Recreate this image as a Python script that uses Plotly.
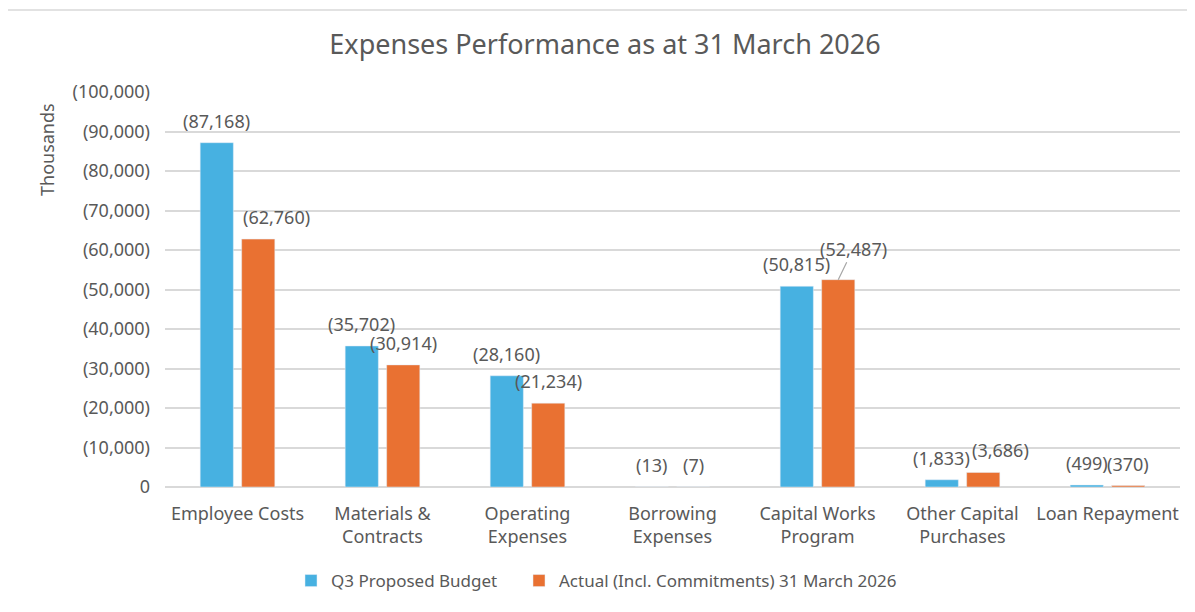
import plotly.graph_objects as go

categories = ["Employee Costs", "Materials &<br>Contracts", "Operating<br>Expenses",
              "Borrowing<br>Expenses", "Capital Works<br>Program", "Other Capital<br>Purchases",
              "Loan Repayment"]
budget = [-87168, -35702, -28160, -13, -50815, -1833, -499]
actual = [-62760, -30914, -21234, -7, -52487, -3686, -370]
tick_values = [0, -10000, -20000, -30000, -40000, -50000, -60000, -70000, -80000, -90000, -100000]

# label placement tweaks (style only): horizontal pixel nudges for some actual labels,
# and the label that is pulled out with a leader line
ACTUAL_LABEL_NUDGE = {0: 18, 5: 17}
LEADER_IDX = 4


def acct(v):
    if v < 0:
        return "({:,.0f})".format(-v)
    return "{:,.0f}".format(v)


FONT = "Noto Sans"
GREY = "#595959"
BLUE = "#47B1E1"
ORANGE = "#E97132"
LABEL_SIZE = 18

fig = go.Figure()
fig.add_trace(go.Bar(name="Q3 Proposed Budget", x=categories, y=budget,
                     marker_color=BLUE, legend="legend"))
fig.add_trace(go.Bar(name="Actual (Incl. Commitments) 31 March 2026", x=categories, y=actual,
                     marker_color=ORANGE, legend="legend2"))

# page offset of the figure div (body margin)
OFF = 8
W, H = 1195, 612
# plot area in page pixels
PX0, PX1, PY0, PY1 = 165, 1180, 92, 487
L = PX0 - OFF
R = W - (PX1 - OFF)
T = PY0 - OFF
B = H - (PY1 - OFF)
pw, ph = PX1 - PX0, PY1 - PY0
BARGAP, GROUPGAP = 0.428, 0.2
cat_w = pw / len(categories)
bar_offset = cat_w * (1 - BARGAP) / 4


def px_x(px):
    return (px - PX0) / pw


def px_y(py):
    return (PY1 - py) / ph


label_font = dict(family=FONT, size=LABEL_SIZE, color=GREY)
annotations = [
    dict(text="Thousands", textangle=-90, x=px_x(47), y=px_y(150),
         xanchor="center", yanchor="middle",
         xref="paper", yref="paper", showarrow=False,
         font=dict(family=FONT, size=18, color=GREY)),
]
for i, (c, v) in enumerate(zip(categories, budget)):
    annotations.append(dict(text=acct(v), x=c, y=v, xref="x", yref="y",
                            xshift=-bar_offset, yshift=8, xanchor="center", yanchor="bottom",
                            showarrow=False, font=label_font))
for i, (c, v) in enumerate(zip(categories, actual)):
    if i == LEADER_IDX:
        annotations.append(dict(text=acct(v), x=c, y=v, xref="x", yref="y",
                                xshift=bar_offset, showarrow=True, arrowhead=0,
                                arrowwidth=1.2, arrowcolor="#A6A6A6", ax=15, ay=-31,
                                standoff=0, font=label_font))
    else:
        annotations.append(dict(text=acct(v), x=c, y=v, xref="x", yref="y",
                                xshift=bar_offset + ACTUAL_LABEL_NUDGE.get(i, 0), yshift=8,
                                xanchor="center", yanchor="bottom",
                                showarrow=False, font=label_font))

legend_common = dict(orientation="h", y=px_y(581), yanchor="middle", xanchor="left",
                     font=dict(family=FONT, size=17, color=GREY), itemwidth=30,
                     bgcolor="rgba(0,0,0,0)")

fig.update_layout(
    width=W, height=H,
    margin=dict(l=L, r=R, t=T, b=B, autoexpand=False),
    paper_bgcolor="white", plot_bgcolor="white",
    font=dict(family=FONT, size=17, color=GREY),
    title=dict(text="Expenses Performance as at 31 March 2026", x=(605 - OFF) / W, xref="container",
               xanchor="center", y=1 - (45 - OFF) / H, yref="container", yanchor="middle",
               font=dict(family=FONT, size=27, color=GREY)),
    barmode="group", bargap=BARGAP, bargroupgap=GROUPGAP,
    showlegend=True,
    legend=dict(x=px_x(291), **legend_common),
    legend2=dict(x=px_x(519), **legend_common),
    xaxis=dict(showgrid=False, showline=False, ticks="", tickfont=dict(family=FONT, size=18, color=GREY),
               ticklabelstandoff=14),
    yaxis=dict(range=[0, -100000], tickvals=tick_values, ticktext=[acct(v) for v in tick_values],
               showgrid=True, gridcolor="#D9D9D9", gridwidth=2, zeroline=True,
               zerolinecolor="#D9D9D9", zerolinewidth=2, showline=False, ticks="",
               tickfont=dict(family=FONT, size=18, color=GREY), ticklabelstandoff=14),
    annotations=annotations,
    shapes=[dict(type="rect", xref="paper", yref="paper",
                 x0=px_x(4), x1=px_x(1190), y0=px_y(616), y1=px_y(10),
                 line=dict(color="#D9D9D9", width=1.5), fillcolor="rgba(0,0,0,0)", layer="below")],
)

fig.write_html("out.html")
